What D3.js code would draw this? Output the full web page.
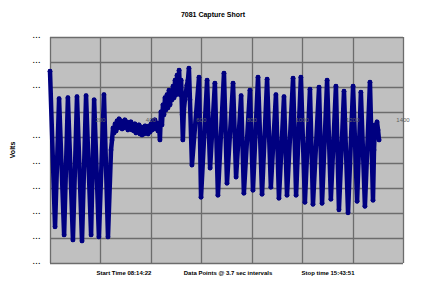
<!DOCTYPE html>
<html>
<head>
<meta charset="utf-8">
<script src="https://cdn.jsdelivr.net/npm/d3@7"></script>
<style>
  html, body { margin: 0; padding: 0; background: #ffffff; }
  svg { display: block; }
  text { font-family: "Liberation Sans", Arial, sans-serif; }
</style>
</head>
<body>
<svg id="chart" width="427" height="298"></svg>
<script>
// ---- data ----
const chartTitle = "7081 Capture Short";
const yAxisTitle = "Volts";
const footerLabels = ["Start Time 08:14:22", "Data Points @ 3.7 sec intervals", "Stop time 15:43:51"];
const xTickValues = [200, 400, 600, 800, 1000, 1200, 1400];
const xTickLabels = ["200", "400", "600", "800", "1000", "1200", "1400"];
const yTickValues = [11, 11.5, 12, 12.5, 13, 13.5, 14, 14.5, 15, 15.5];
const yTickLabels = ["...", "...", "...", "...", "...", "...", "", "...", "...", "..."];

// sample index of turning points in the captured signal
const sampleIndex = [0, 20, 36, 56, 71, 91, 107, 127, 143, 163, 175, 194, 214, 230,
  242,
  246, 250, 254, 258, 262, 266, 270, 274, 278, 282, 286, 290, 293, 297, 301, 305, 309, 313, 317, 321,
  325, 329, 333, 337, 341, 345, 349, 353, 357, 361, 365, 369, 373, 377, 381, 385, 389, 393, 397, 401,
  405, 408, 412, 416, 420, 424, 428, 432, 436,
  440, 444, 448, 452, 456, 460, 464, 468, 472, 476, 480, 484, 488, 492, 496, 500, 504, 508, 512, 516,
  520, 524, 527, 531, 535, 539, 543, 547, 551, 555,
  563, 591, 599, 623, 635, 654, 666, 690, 702, 726, 738, 758, 769, 793, 805, 825, 841,
  861, 876, 896, 908, 928, 940, 964, 976, 995, 1011, 1031, 1043, 1067, 1079, 1099, 1114,
  1134, 1146, 1166, 1182, 1202, 1218, 1233, 1249, 1269, 1281,
  1285, 1289, 1293, 1297, 1301, 1305];
// voltage at those samples
const volts = [14.82, 11.72, 14.27, 11.56, 14.29, 11.46, 14.31, 11.44, 14.33, 11.56, 14.25, 11.52, 14.35, 11.52,
  13.25,
  13.45, 13.69, 13.59, 13.77, 13.63, 13.83, 13.69, 13.87, 13.71, 13.83, 13.67, 13.81, 13.69, 13.85, 13.71, 13.81, 13.65, 13.79, 13.69, 13.81,
  13.65, 13.75, 13.63, 13.77, 13.59, 13.73, 13.61, 13.75, 13.57, 13.71, 13.55, 13.69, 13.57, 13.73, 13.59, 13.71, 13.57, 13.73, 13.61, 13.77,
  13.65, 13.83, 13.67, 13.85, 13.69, 13.79, 13.63, 13.77, 13.45,
  14.01, 13.75, 14.15, 13.95, 14.29, 14.05, 14.35, 14.09, 14.44, 14.15, 14.40, 14.25, 14.52, 14.29, 14.64, 14.35, 14.74, 14.44, 14.84, 14.35,
  14.64, 13.95, 13.45, 14.05, 14.25, 14.40, 14.54, 14.64, 14.88, 14.25,
  12.95, 14.70, 12.31, 14.64, 12.89, 14.58, 12.35, 14.78, 12.59, 14.58, 12.71, 14.33, 12.39, 14.44, 12.45, 14.70, 12.37,
  14.66, 12.51, 14.35, 12.29, 14.31, 12.35, 14.68, 12.35, 14.70, 12.21, 14.46, 12.17, 14.50, 12.19, 14.64, 12.27,
  14.52, 12.06, 14.42, 12.00, 14.52, 12.23, 14.40, 12.13, 14.60, 12.25,
  13.25, 13.75, 13.55, 13.81, 13.65, 13.45];

// ---- layout ----
const svg = d3.select("#chart");
const mLeft = 50, mRight = 403, mTop = 37, mBottom = 263;
const x = d3.scaleLinear().domain([0, 1400]).range([mLeft, mRight]);
const y = d3.scaleLinear().domain([11, 15.5]).range([mBottom, mTop]);

// plot background
svg.append("rect").attr("x", mLeft).attr("y", mTop)
  .attr("width", mRight - mLeft).attr("height", mBottom - mTop)
  .attr("fill", "#c0c0c0");

// gridlines
const gridV = d3.range(0, 1401, 200);
svg.append("g").selectAll("line").data(gridV).join("line")
  .attr("x1", d => Math.round(x(d)) + 0.5).attr("x2", d => Math.round(x(d)) + 0.5)
  .attr("y1", mTop).attr("y2", mBottom)
  .attr("stroke", "#6c6c6c").attr("stroke-width", 1.3);
svg.append("g").selectAll("line").data(yTickValues).join("line")
  .attr("x1", mLeft).attr("x2", mRight)
  .attr("y1", d => Math.round(y(d)) + 0.5).attr("y2", d => Math.round(y(d)) + 0.5)
  .attr("stroke", "#6c6c6c").attr("stroke-width", 1.3);

// y tick labels
svg.append("g").selectAll("text").data(yTickValues).join("text")
  .attr("x", 41).attr("y", d => y(d) + 1)
  .attr("text-anchor", "end")
  .attr("font-size", 7).attr("font-weight", "bold").attr("letter-spacing", 0.8).attr("fill", "#000000")
  .text((d, i) => yTickLabels[i]);

// data
const pts = sampleIndex.map((s, i) => [s, volts[i]]);
const line = d3.line().x(d => x(d[0])).y(d => y(d[1]));
svg.append("path").datum(pts)
  .attr("d", line)
  .attr("fill", "none")
  .attr("stroke", "#000080")
  .attr("stroke-width", 4.5)
  .attr("stroke-linejoin", "round")
  .attr("stroke-linecap", "round");
svg.append("g").selectAll("circle").data(pts).join("circle")
  .attr("cx", d => x(d[0])).attr("cy", d => y(d[1])).attr("r", 2.4)
  .attr("fill", "#000080");

// x tick labels (axis crosses at 14.0)
svg.append("g").selectAll("text").data(xTickValues).join("text")
  .attr("x", d => x(d)).attr("y", y(14) + 10)
  .attr("text-anchor", "middle")
  .attr("font-size", 6).attr("fill", "#606060")
  .text((d, i) => xTickLabels[i]);

// title
svg.append("text").attr("x", 213).attr("y", 17)
  .attr("text-anchor", "middle").attr("font-size", 7).attr("font-weight", "bold")
  .text(chartTitle);

// y axis title
svg.append("text")
  .attr("transform", "translate(15,150) rotate(-90)")
  .attr("text-anchor", "middle").attr("font-size", 7).attr("font-weight", "bold")
  .text(yAxisTitle);

// footer
const footerX = [124, 228, 328];
svg.append("g").selectAll("text").data(footerLabels).join("text")
  .attr("x", (d, i) => footerX[i]).attr("y", 275)
  .attr("text-anchor", "middle").attr("font-size", 6).attr("font-weight", "bold")
  .text(d => d);
</script>
</body>
</html>
